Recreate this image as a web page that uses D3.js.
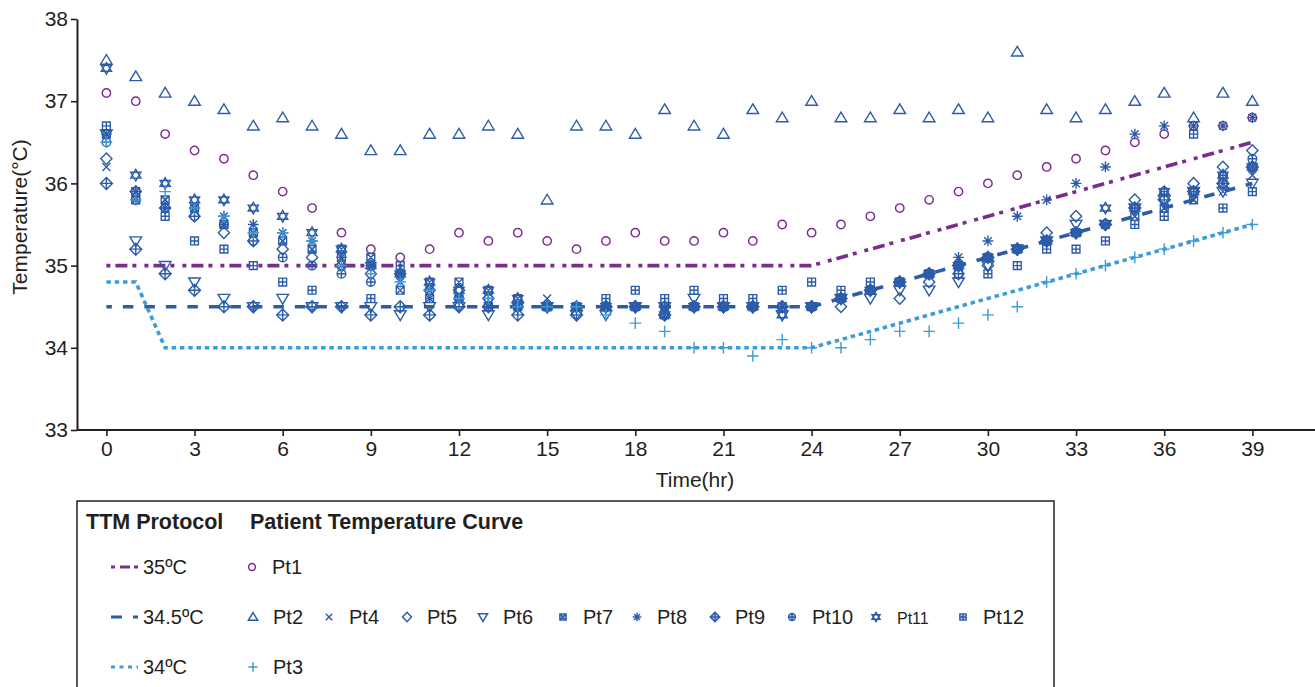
<!DOCTYPE html>
<html>
<head>
<meta charset="utf-8">
<script src="https://cdn.jsdelivr.net/npm/d3@7"></script>
<style>
  body { margin: 0; background: #fff; }
  svg { display: block; font-family: "Liberation Sans", Arial, Helvetica, sans-serif; }
</style>
</head>
<body>
<svg id="chart" width="1315" height="687"></svg>
<script>
// hours of measurement
const hours = [0,1,2,3,4,5,6,7,8,9,10,11,12,13,14,15,16,17,18,19,20,21,22,23,24,25,26,27,28,29,30,31,32,33,34,35,36,37,38,39];

// patient temperature curves
const pt1  = [37.1,37.0,36.6,36.4,36.3,36.1,35.9,35.7,35.4,35.2, 35.1,35.2,35.4,35.3,35.4,35.3,35.2,35.3,35.4,35.3, 35.3,35.4,35.3,35.5,35.4,35.5,35.6,35.7,35.8,35.9, 36.0,36.1,36.2,36.3,36.4,36.5,36.6,36.7,36.7,36.8];
const pt2  = [37.5,37.3,37.1,37.0,36.9,36.7,36.8,36.7,36.6,36.4, 36.4,36.6,36.6,36.7,36.6,35.8,36.7,36.7,36.6,36.9, 36.7,36.6,36.9,36.8,37.0,36.8,36.8,36.9,36.8,36.9, 36.8,37.6,36.9,36.8,36.9,37.0,37.1,36.8,37.1,37.0];
const pt3  = [36.5,35.8,35.9,35.7,35.6,35.4,35.4,35.3,35.0,34.9, 34.8,34.7,34.6,34.6,34.5,34.5,34.5,34.4,34.3,34.2, 34.0,34.0,33.9,34.1,34.0,34.0,34.1,34.2,34.2,34.3, 34.4,34.5,34.8,34.9,35.0,35.1,35.2,35.3,35.4,35.5];
const pt4  = [36.2,35.8,35.8,35.7,35.5,35.4,35.3,35.2,35.0,35.0, 34.8,34.6,34.6,34.5,34.5,34.6,34.5,34.5,34.5,34.5, 34.5,34.5,34.5,34.5,34.5,34.6,34.7,34.8,34.9,35.0, 35.1,35.2,35.3,35.4,35.5,35.6,35.7,35.8,35.9,36.1];
const pt5  = [36.3,35.9,35.7,35.6,35.4,35.3,35.2,35.1,35.0,34.9, 34.9,34.7,34.7,34.6,34.5,34.5,34.5,34.5,34.5,34.5, 34.5,34.5,34.5,34.5,34.5,34.5,34.7,34.6,34.8,34.9, 35.0,35.2,35.4,35.6,35.5,35.8,35.8,36.0,36.2,36.4];
const pt6  = [36.6,35.3,35.0,34.8,34.6,34.5,34.6,34.5,34.5,34.5, 34.4,34.5,34.5,34.4,34.5,34.5,34.4,34.4,34.5,34.5, 34.6,34.5,34.5,34.4,34.5,34.6,34.6,34.7,34.7,34.8, 35.0,35.2,35.3,35.5,35.5,35.7,35.8,35.9,35.9,36.0];
const pt7  = [36.6,35.9,35.8,35.7,35.5,35.4,35.3,35.2,35.2,35.1, 34.7,34.8,34.8,34.7,34.6,34.5,34.5,34.5,34.5,34.4, 34.5,34.5,34.5,34.5,34.5,34.6,34.7,34.8,34.9,35.0, 35.1,35.2,35.3,35.4,35.5,35.6,35.7,35.8,36.0,36.2];
const pt8  = [36.6,35.9,35.7,35.7,35.6,35.5,35.4,35.3,35.1,35.0, 34.9,34.7,34.6,34.5,34.5,34.5,34.5,34.5,34.5,34.5, 34.5,34.5,34.5,34.5,34.5,34.6,34.7,34.8,34.9,35.1, 35.3,35.6,35.8,36.0,36.2,36.6,36.7,36.7,36.7,36.8];
const pt9  = [36.0,35.2,34.9,34.7,34.5,34.5,34.4,34.5,34.5,34.4, 34.5,34.4,34.5,34.5,34.4,34.5,34.4,34.5,34.5,34.4, 34.5,34.5,34.5,34.5,34.5,34.6,34.7,34.8,34.9,35.0, 35.1,35.2,35.3,35.4,35.5,35.7,35.8,35.9,36.0,36.2];
const pt10 = [36.5,35.8,35.7,35.6,35.5,35.3,35.1,35.0,34.9,34.8, 34.9,34.7,34.6,34.6,34.5,34.5,34.5,34.5,34.5,34.5, 34.5,34.5,34.5,34.5,34.5,34.6,34.7,34.8,34.9,35.0, 35.1,35.2,35.3,35.4,35.5,35.7,35.9,35.9,36.1,36.3];
const pt11 = [37.4,36.1,36.0,35.8,35.8,35.7,35.6,35.4,35.2,35.0, 34.9,34.8,34.7,34.7,34.6,34.5,34.5,34.5,34.5,34.4, 34.5,34.5,34.5,34.4,34.5,34.6,34.7,34.8,34.9,35.0, 35.1,35.2,35.3,35.4,35.7,35.7,35.9,35.9,36.1,36.2];
const pt12 = [36.7,35.8,35.6,35.3,35.2,35.0,34.8,34.7,35.1,34.6, 35.0,34.6,34.6,34.5,34.5,34.5,34.5,34.6,34.7,34.6, 34.7,34.6,34.6,34.7,34.8,34.7,34.8,34.8,34.9,34.9, 34.9,35.0,35.2,35.2,35.3,35.5,35.6,36.6,35.7,35.9];

// TTM protocol curves
const p35Hours  = [0, 24, 39];
const p35Temp   = [35, 35, 36.5];
const p345Hours = [0, 24, 39];
const p345Temp  = [34.5, 34.5, 36.0];
const p34Hours  = [0, 1, 2, 24, 39];
const p34Temp   = [34.8, 34.8, 34.0, 34.0, 35.5];

const xTicks = [0,3,6,9,12,15,18,21,24,27,30,33,36,39];
const yTicks = [33,34,35,36,37,38];

const PURPLE = "#7b2d8e", BLUE = "#2c5ca9", LIGHT = "#3d9bd6", INK = "#231f20";

// marker shapes as path strings
const shapes = {
  circle: r => `M${r},0A${r},${r} 0 1,1 ${-r},0A${r},${r} 0 1,1 ${r},0Z`,
  triUp: () => "M0,-5.6L5.8,4.1L-5.8,4.1Z",
  triDown: () => "M0,5.6L5.8,-4.1L-5.8,-4.1Z",
  cross: () => "M-4,-4L4,4M4,-4L-4,4",
  diamond: () => "M0,-5.8L5.6,0L0,5.8L-5.6,0Z",
  boxX: () => "M-3.9,-3.9H3.9V3.9H-3.9ZM-3.9,-3.9L3.9,3.9M3.9,-3.9L-3.9,3.9",
  aster: () => "M0,-5.4V5.4M-5.4,0H5.4M-3.8,-3.8L3.8,3.8M3.8,-3.8L-3.8,3.8",
  diamondPlus: () => "M0,-6L6,0L0,6L-6,0ZM0,-6V6M-6,0H6",
  circlePlus: () => shapes.circle(4.3) + "M0,-4.3V4.3M-4.3,0H4.3",
  david: () => "M0,-5.8L5.1,2.9L-5.1,2.9ZM0,5.8L5.1,-2.9L-5.1,-2.9Z",
  boxPlus: () => "M-3.9,-3.9H3.9V3.9H-3.9ZM0,-3.9V3.9M-3.9,0H3.9",
  plus: () => "M0,-5.8V5.8M-5.8,0H5.8"
};

const patients = [
  {name: "Pt1",  values: pt1,  shape: "circle", color: PURPLE},
  {name: "Pt2",  values: pt2,  shape: "triUp", color: BLUE},
  {name: "Pt4",  values: pt4,  shape: "cross", color: BLUE},
  {name: "Pt5",  values: pt5,  shape: "diamond", color: BLUE},
  {name: "Pt6",  values: pt6,  shape: "triDown", color: BLUE},
  {name: "Pt7",  values: pt7,  shape: "boxX", color: BLUE},
  {name: "Pt8",  values: pt8,  shape: "aster", color: BLUE},
  {name: "Pt9",  values: pt9,  shape: "diamondPlus", color: BLUE},
  {name: "Pt10", values: pt10, shape: "circlePlus", color: BLUE},
  {name: "Pt11", values: pt11, shape: "david", color: BLUE},
  {name: "Pt12", values: pt12, shape: "boxPlus", color: BLUE},
  {name: "Pt3",  values: pt3,  shape: "plus", color: LIGHT}
];

const protocols = [
  {label: "35ºC",   t: p35Hours,  v: p35Temp,  color: PURPLE, dash: "4,5,12,5,4,8"},
  {label: "34.5ºC", t: p345Hours, v: p345Temp, color: BLUE,   dash: "10.5,11", offset: 5},
  {label: "34ºC",   t: p34Hours,  v: p34Temp,  color: LIGHT,  dash: "4.5,3.8"}
];

const svg = d3.select("#chart");

const x = d3.scaleLinear().domain([-1, 41.2]).range([77, 1317]);
const y = d3.scaleLinear().domain([33, 38]).range([430, 19]);

// axes
const xAxis = svg.append("g").attr("transform", "translate(0,430)")
  .call(d3.axisBottom(x).tickValues(xTicks).tickSize(6).tickSizeOuter(0).tickPadding(5));
const yAxis = svg.append("g").attr("transform", "translate(77,0)")
  .call(d3.axisLeft(y).tickValues(yTicks).tickFormat(d3.format("d")).tickSize(6).tickSizeOuter(0).tickPadding(3));

[xAxis, yAxis].forEach(g => {
  g.attr("font-family", null).attr("font-size", null);
  g.select(".domain").attr("stroke", INK).attr("stroke-width", 2);
  g.selectAll(".tick line").attr("stroke", INK).attr("stroke-width", 1.6);
  g.selectAll(".tick text").attr("fill", INK).style("font-size", "21px");
});
xAxis.select(".domain").attr("d", "M77,0H1315");

svg.append("text")
  .attr("transform", "translate(27,217) rotate(-90)")
  .attr("text-anchor", "middle")
  .attr("fill", INK).style("font-size", "21px")
  .text("Temperature(°C)");

svg.append("text")
  .attr("x", 695).attr("y", 487)
  .attr("text-anchor", "middle")
  .attr("fill", INK).style("font-size", "21px")
  .text("Time(hr)");

// protocol lines
const line = d3.line().x(d => x(d[0])).y(d => y(d[1]));
svg.append("g").selectAll("path")
  .data(protocols)
  .join("path")
  .attr("d", p => line(p.t.map((t, i) => [t, p.v[i]])))
  .attr("fill", "none")
  .attr("stroke", p => p.color)
  .attr("stroke-width", 3.6)
  .attr("stroke-dasharray", p => p.dash)
  .attr("stroke-dashoffset", p => p.offset || 0);

// patient markers
const markers = svg.append("g");
patients.forEach(p => {
  markers.append("g").selectAll("path")
    .data(hours.map((h, i) => [h, p.values[i]]))
    .join("path")
    .attr("transform", d => `translate(${x(d[0])},${y(d[1])})`)
    .attr("d", shapes[p.shape](4.2))
    .attr("fill", "none")
    .attr("stroke", p.color)
    .attr("stroke-width", 1.4);
});

// legend
const legend = svg.append("g");
legend.append("rect")
  .attr("x", 77).attr("y", 501).attr("width", 977).attr("height", 220)
  .attr("fill", "none").attr("stroke", INK).attr("stroke-width", 1.5);

legend.append("text").attr("x", 86).attr("y", 529)
  .attr("fill", INK).style("font-size", "21.5px").style("font-weight", "bold")
  .text("TTM Protocol");
legend.append("text").attr("x", 250).attr("y", 529)
  .attr("fill", INK).style("font-size", "21.5px").style("font-weight", "bold")
  .text("Patient Temperature Curve");

const rowY = [567, 617, 667];
protocols.forEach((p, i) => {
  legend.append("line")
    .attr("x1", 111).attr("x2", 138).attr("y1", rowY[i]).attr("y2", rowY[i])
    .attr("stroke", p.color).attr("stroke-width", 3.2)
    .attr("stroke-dasharray", i === 0 ? "4,5,10,4,4,20" : (i === 1 ? "11,11" : "4,4.5"));
  legend.append("text").attr("x", 143).attr("y", rowY[i] + 7)
    .attr("fill", INK).style("font-size", "20px")
    .text(p.label);
});

// patient legend entries: [name, row, marker x]
const patientRows = [["Pt1",0,252],["Pt2",1,253],["Pt4",1,329],["Pt5",1,407],["Pt6",1,483],["Pt7",1,563],
  ["Pt8",1,637],["Pt9",1,715],["Pt10",1,792],["Pt11",1,876],["Pt12",1,963],["Pt3",2,253]];
patientRows.forEach(([name, row, mx]) => {
  const p = patients.find(q => q.name === name);
  const small = name === "Pt11";
  legend.append("path")
    .attr("transform", `translate(${mx},${rowY[row]}) scale(${p.shape === "circle" ? 0.85 : 0.8})`)
    .attr("d", shapes[p.shape](4))
    .attr("fill", ["boxX","boxPlus","circlePlus","diamondPlus","aster","david"].includes(p.shape) ? p.color : "none")
    .attr("fill-opacity", 0.35)
    .attr("stroke", p.color).attr("stroke-width", 1.8);
  legend.append("text").attr("x", mx + (small ? 21 : 20)).attr("y", rowY[row] + 7)
    .attr("fill", INK).style("font-size", small ? "16px" : "20px")
    .text(name);
});
</script>
</body>
</html>
